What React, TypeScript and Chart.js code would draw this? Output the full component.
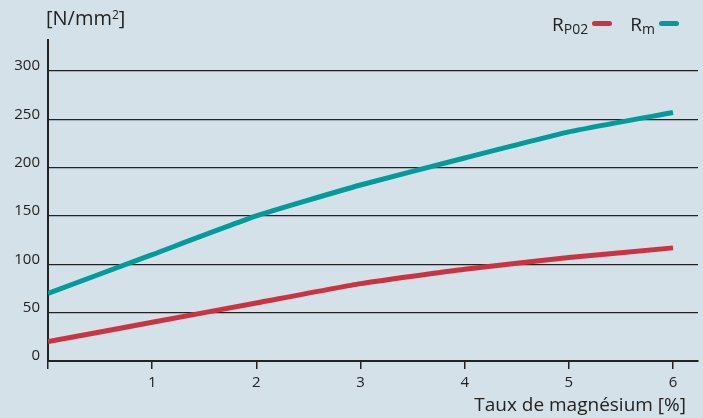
import React, { useEffect, useRef } from "react";
import { Chart, registerables } from "chart.js";

Chart.register(...registerables);

const magnesium = [0, 1, 2, 3, 4, 5, 6];
const rp02 = [20, 40, 60, 80, 95, 107, 117];
const rm = [70, 110, 150, 182, 210, 237, 257];
const yTicks = [0, 50, 100, 150, 200, 250, 300];
const xTicks = [1, 2, 3, 4, 5, 6];

const BG = "#d5e1e9";
const RED = "#cc3340";
const TEAL = "#009b9a";
const INK = "#222222";
const FONT = "'Open Sans', 'DejaVu Sans', sans-serif";

export default function App() {
  const ref = useRef<HTMLCanvasElement>(null);

  useEffect(() => {
    document.body.style.margin = "0";
    document.body.style.background = BG;
    const ctx = ref.current!;
    const chart = new Chart(ctx, {
      type: "line",
      data: {
        datasets: [
          {
            label: "RP02",
            data: magnesium.map((x, i) => ({ x, y: rp02[i] })),
            borderColor: RED,
            borderWidth: 5,
            pointRadius: 0,
            tension: 0.15,
            borderJoinStyle: "round",
          },
          {
            label: "Rm",
            data: magnesium.map((x, i) => ({ x, y: rm[i] })),
            borderColor: TEAL,
            borderWidth: 5,
            pointRadius: 0,
            tension: 0.15,
            borderJoinStyle: "round",
          },
        ],
      },
      options: {
        responsive: false,
        animation: false,
        layout: { padding: { top: 40, right: 5, left: 0, bottom: 0 } },
        plugins: { legend: { display: false }, tooltip: { enabled: false } },
        scales: {
          x: {
            type: "linear",
            min: 0,
            max: 6.24,
            afterBuildTicks: (s: any) => {
              s.ticks = [0, ...xTicks].map((v) => ({ value: v }));
            },
            afterFit: (s: any) => {
              s.height = 57;
            },
            border: { color: INK, width: 2 },
            grid: {
              drawOnChartArea: false,
              drawTicks: true,
              tickLength: 8,
              color: INK,
              lineWidth: 1.5,
            },
            ticks: {
              color: INK,
              font: { family: FONT, size: 15 },
              padding: 5,
              callback: (v: any) => (v === 0 ? "" : String(v)),
              maxRotation: 0,
            },
          },
          y: {
            type: "linear",
            min: 0,
            max: 332,
            afterBuildTicks: (s: any) => {
              s.ticks = yTicks.map((v) => ({ value: v }));
            },
            afterFit: (s: any) => {
              s.width = 48;
            },
            border: { color: INK, width: 2 },
            grid: {
              drawTicks: false,
              color: INK,
              lineWidth: 1.2,
            },
            ticks: {
              color: INK,
              font: { family: FONT, size: 15 },
              padding: 8,
              labelOffset: -5,
            },
          },
        },
      },
    });
    return () => chart.destroy();
  }, []);

  const dash = (c: string) => (
    <span
      style={{
        display: "inline-block",
        width: 20,
        height: 5,
        borderRadius: 3,
        background: c,
        verticalAlign: "top",
        marginTop: 11,
        marginLeft: 4,
      }}
    />
  );

  return (
    <div
      style={{
        position: "fixed",
        left: 0,
        top: 0,
        width: 703,
        height: 418,
        background: BG,
        fontFamily: FONT,
        color: INK,
      }}
    >
      <canvas ref={ref} width={703} height={418} style={{ position: "absolute", left: 0, top: 0 }} />
      <div style={{ position: "absolute", left: 46, top: 4, fontSize: 20, lineHeight: "28px" }}>
        [N/mm<sup style={{ fontSize: 12, verticalAlign: "top", lineHeight: "22px" }}>2</sup>]
      </div>
      <div style={{ position: "absolute", left: 552, top: 10, fontSize: 19, lineHeight: "28px", whiteSpace: "nowrap" }}>
        R<sub style={{ fontSize: 14, verticalAlign: "baseline", position: "relative", top: 3 }}>P02</sub>
        {dash(RED)}
        <span style={{ marginLeft: 18 }}>R</span>
        <sub style={{ fontSize: 14, verticalAlign: "baseline", position: "relative", top: 3 }}>m</sub>
        {dash(TEAL)}
      </div>
      <div
        style={{
          position: "absolute",
          right: 703 - 686,
          top: 391,
          fontSize: 19,
          lineHeight: "26px",
          whiteSpace: "nowrap",
        }}
      >
        Taux de magnésium [%]
      </div>
    </div>
  );
}
